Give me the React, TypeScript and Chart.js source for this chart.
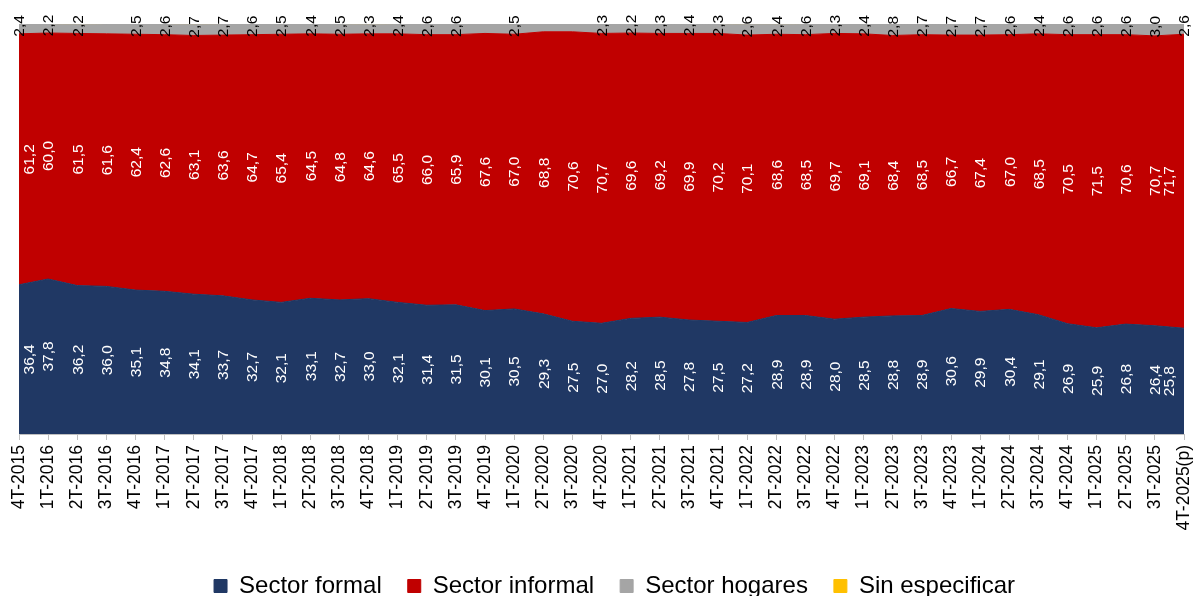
import React, { useEffect, useRef } from "react";
import { Chart, registerables } from "chart.js";

Chart.register(...registerables);

const categories = [
  "4T-2015", "1T-2016", "2T-2016", "3T-2016", "4T-2016", "1T-2017", "2T-2017", "3T-2017", "4T-2017",
  "1T-2018", "2T-2018", "3T-2018", "4T-2018", "1T-2019", "2T-2019", "3T-2019", "4T-2019",
  "1T-2020", "2T-2020", "3T-2020", "4T-2020", "1T-2021", "2T-2021", "3T-2021", "4T-2021",
  "1T-2022", "2T-2022", "3T-2022", "4T-2022", "1T-2023", "2T-2023", "3T-2023", "4T-2023",
  "1T-2024", "2T-2024", "3T-2024", "4T-2024", "1T-2025", "2T-2025", "3T-2025", "4T-2025(p)",
];

const sectorFormal = [
  36.4, 37.8, 36.2, 36.0, 35.1, 34.8, 34.1, 33.7, 32.7, 32.1, 33.1, 32.7, 33.0, 32.1, 31.4, 31.5,
  30.1, 30.5, 29.3, 27.5, 27.0, 28.2, 28.5, 27.8, 27.5, 27.2, 28.9, 28.9, 28.0, 28.5, 28.8, 28.9,
  30.6, 29.9, 30.4, 29.1, 26.9, 25.9, 26.8, 26.4, 25.8,
];

const sectorInformal = [
  61.2, 60.0, 61.5, 61.6, 62.4, 62.6, 63.1, 63.6, 64.7, 65.4, 64.5, 64.8, 64.6, 65.5, 66.0, 65.9,
  67.6, 67.0, 68.8, 70.6, 70.7, 69.6, 69.2, 69.9, 70.2, 70.1, 68.6, 68.5, 69.7, 69.1, 68.4, 68.5,
  66.7, 67.4, 67.0, 68.5, 70.5, 71.5, 70.6, 70.7, 71.7,
];

const sectorHogares = [
  2.4, 2.2, 2.2, 2.4, 2.5, 2.6, 2.7, 2.7, 2.6, 2.5, 2.4, 2.5, 2.3, 2.4, 2.6, 2.6,
  2.3, 2.5, 1.9, 1.9, 2.3, 2.2, 2.3, 2.4, 2.3, 2.6, 2.4, 2.6, 2.3, 2.4, 2.8, 2.7,
  2.7, 2.7, 2.6, 2.4, 2.6, 2.6, 2.6, 3.0, 2.6,
];

const sinEspecificar = [
  0.0, 0.0, 0.1, 0.0, 0.0, 0.0, 0.1, 0.0, 0.0, 0.0, 0.0, 0.0, 0.1, 0.0, 0.0, 0.0,
  0.0, 0.0, 0.0, 0.0, 0.0, 0.0, 0.0, 0.0, 0.0, 0.1, 0.1, 0.0, 0.0, 0.0, 0.0, 0.0,
  0.0, 0.0, 0.0, 0.0, 0.0, 0.0, 0.0, 0.0, 0.0,
];

// indices of "Sector hogares" points whose value label is not shown in the original
const hiddenHogaresLabels = [3, 16, 18, 19];

const seriesNames = ["Sector formal", "Sector informal", "Sector hogares", "Sin especificar"];

const NAVY = "#203864";
const RED = "#C00000";
const GRAY = "#A5A5A5";
const GOLD = "#FFC000";
const FONT = '"Liberation Sans", Arial, Helvetica, sans-serif';

const segmentLabels = {
  id: "segmentLabels",
  afterLayout(chart: any) {
    // nudge the legend row to the right, as in the original
    if (chart.legend) {
      chart.legend.left += 13;
      chart.legend.right += 13;
    }
  },
  afterDatasetsDraw(chart: any) {
    const { ctx, chartArea } = chart;
    const yScale = chart.scales.y;
    ctx.save();
    ctx.font = `15.5px ${FONT}`;
    ctx.textAlign = "center";
    ctx.textBaseline = "middle";
    for (let d = 0; d < 3; d++) {
      const meta = chart.getDatasetMeta(d);
      const prev = d > 0 ? chart.getDatasetMeta(d - 1) : null;
      meta.data.forEach((pt: any, i: number) => {
        if (d === 2 && hiddenHogaresLabels.includes(i)) return;
        const top = pt.y;
        const bottom = prev ? prev.data[i].y : yScale.getPixelForValue(0);
        let x = pt.x;
        let y = (top + bottom) / 2;
        if (d < 2) {
          x = Math.min(Math.max(x, chartArea.left + 10), chartArea.right - 15);
          ctx.fillStyle = "#FFFFFF";
        } else {
          y -= 3;
          ctx.fillStyle = "#000000";
        }
        const value = chart.data.datasets[d].data[i] as number;
        const text = value.toFixed(1).replace(".", ",");
        ctx.save();
        ctx.translate(x, y);
        ctx.rotate(-Math.PI / 2);
        ctx.fillText(text, 0, 1);
        ctx.restore();
      });
    }
    ctx.restore();
  },
};

export default function App() {
  const canvasRef = useRef<HTMLCanvasElement | null>(null);

  useEffect(() => {
    if (!canvasRef.current) return;
    const colors = [NAVY, RED, GRAY, GOLD];
    const values = [sectorFormal, sectorInformal, sectorHogares, sinEspecificar];
    const chart = new Chart(canvasRef.current, {
      type: "line",
      data: {
        labels: categories,
        datasets: values.map((data, k) => ({
          label: seriesNames[k],
          data,
          backgroundColor: colors[k],
          borderColor: colors[k],
          borderWidth: 1,
          fill: k === 0 ? "origin" : "-1",
          pointRadius: 0,
          pointHoverRadius: 0,
          tension: 0,
        })),
      },
      options: {
        animation: false,
        responsive: false,
        maintainAspectRatio: false,
        events: [],
        layout: { padding: { left: 19, right: 12, top: 24, bottom: -12 } },
        scales: {
          x: {
            offset: false,
            grid: {
              drawOnChartArea: false,
              drawTicks: true,
              tickLength: 6,
              color: "#BFBFBF",
            },
            border: { display: true, color: "#BFBFBF" },
            ticks: {
              autoSkip: false,
              maxRotation: 90,
              minRotation: 90,
              padding: 5,
              color: "#000000",
              font: { family: FONT, size: 17.5 },
            },
            afterFit: (scale: any) => {
              scale.height = 114;
              scale.paddingLeft = 0;
              scale.paddingRight = 0;
            },
          },
          y: {
            display: false,
            stacked: true,
            min: 0,
            max: 100,
          },
        },
        plugins: {
          legend: {
            position: "bottom",
            labels: {
              boxWidth: 13,
              boxHeight: 13,
              padding: 26,
              color: "#000000",
              font: { family: FONT, size: 24 },
            },
          },
          tooltip: { enabled: false },
        },
      },
      plugins: [segmentLabels],
    });
    return () => chart.destroy();
  }, []);

  return (
    <div style={{ position: "absolute", left: 0, top: 0, width: 1196, height: 596, background: "#FFFFFF" }}>
      <canvas ref={canvasRef} width={1196} height={596} style={{ display: "block" }} />
    </div>
  );
}
